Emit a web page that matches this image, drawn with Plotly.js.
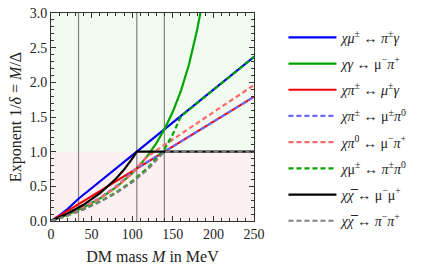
<!DOCTYPE html>
<html>
<head>
<meta charset="utf-8">
<script src="https://cdn.plot.ly/plotly-3.0.1.min.js"></script>
<style>html,body{margin:0;padding:0;background:#fff;}#chart{width:427px;height:269px;}</style>
</head>
<body>
<div id="chart"></div>
<script>
// Thresholds (vertical reference lines), MeV
const thresholds = [33.91, 105.66, 139.57];

// Series (DM mass M in MeV -> exponent)
const blueSolidX = [0, 10, 20, 33.9, 105.66, 250];
const blueSolidY = [0, 0.077, 0.167, 0.321, 1.0, 2.366];

const greenSolidX = [0, 20, 40, 60, 80, 100, 110, 120, 130, 140, 150, 160, 170, 175, 180, 184];
const greenSolidY = [0, 0.089, 0.195, 0.324, 0.484, 0.689, 0.813, 0.958, 1.128, 1.330, 1.575, 1.877, 2.260, 2.492, 2.760, 3.005];

const redSolidX = [0, 250];
const redSolidY = [0, 1.791];

const blueDashX = [0, 20, 40, 60, 80, 90, 101.07, 250];
const blueDashY = [0, 0.091, 0.199, 0.332, 0.498, 0.598, 0.724, 1.791];

const redDashX = [0, 20, 40, 60, 80, 100, 117.7, 250];
const redDashY = [0, 0.089, 0.195, 0.324, 0.484, 0.689, 0.923, 1.961];

const greenDashX = [0, 20, 40, 60, 80, 100, 120, 140, 150, 160, 250];
const greenDashY = [0, 0.079, 0.171, 0.280, 0.411, 0.573, 0.776, 1.040, 1.250, 1.510, 2.366];

const blackX = [0, 20, 40, 60, 80, 90, 100, 105.66, 250];
const blackY = [0, 0.105, 0.234, 0.397, 0.609, 0.742, 0.898, 1.0, 1.0];

const grayX = [0, 20, 40, 60, 80, 100, 120, 130, 139.57, 250];
const grayY = [0, 0.077, 0.167, 0.274, 0.402, 0.558, 0.754, 0.872, 1.0, 1.0];

const labels = [
  '<i>χμ</i><sup>±</sup> ↔ <i>π</i><sup>±</sup><i>γ</i>',
  '<i>χγ</i> ↔ μ<sup>−</sup><i>π</i><sup>+</sup>',
  '<i>χπ</i><sup>±</sup> ↔ <i>μ</i><sup>±</sup><i>γ</i>',
  '<i>χπ</i><sup>±</sup> ↔ μ<sup>±</sup><i>π</i><sup>0</sup>',
  '<i>χπ</i><sup>0</sup> ↔ μ<sup>−</sup><i>π</i><sup>+</sup>',
  '<i>χ</i>μ<sup>±</sup> ↔ <i>π</i><sup>±</sup><i>π</i><sup>0</sup>',
  '<i>χχ̅</i> ↔ μ<sup>−</sup>μ<sup>+</sup>',
  '<i>χχ̅</i> ↔ <i>π</i><sup>−</sup><i>π</i><sup>+</sup>'
];

const series = [
  {x: blueSolidX, y: blueSolidY, color: 'rgb(0,0,245)', dash: 'solid'},
  {x: greenSolidX, y: greenSolidY, color: 'rgb(0,165,0)', dash: 'solid'},
  {x: redSolidX, y: redSolidY, color: 'rgb(245,0,0)', dash: 'solid'},
  {x: blueDashX, y: blueDashY, color: 'rgb(105,105,255)', dash: '5px,3px'},
  {x: redDashX, y: redDashY, color: 'rgb(255,105,105)', dash: '5px,3px'},
  {x: greenDashX, y: greenDashY, color: 'rgb(0,165,0)', dash: '5px,3px'},
  {x: blackX, y: blackY, color: 'rgb(0,0,0)', dash: 'solid'},
  {x: grayX, y: grayY, color: 'rgb(128,128,128)', dash: '5px,3px'}
];

const traces = series.map((s, i) => ({
  type: 'scatter', mode: 'lines', x: s.x, y: s.y, name: labels[i],
  legendgroup: 'g' + i,
  line: {color: s.color, width: 2.2, dash: s.dash},
  hoverinfo: 'skip'
}));

const shapes = [
  {type: 'rect', xref: 'paper', yref: 'y', x0: 0, x1: 1, y0: 0, y1: 1, fillcolor: 'rgb(253,240,240)', line: {width: 0}, layer: 'below'},
  {type: 'rect', xref: 'paper', yref: 'y', x0: 0, x1: 1, y0: 1, y1: 3, fillcolor: 'rgb(241,251,240)', line: {width: 0}, layer: 'below'}
].concat(thresholds.map(t => ({
  type: 'line', xref: 'x', yref: 'paper', x0: t, x1: t, y0: 0, y1: 1,
  line: {color: 'rgba(90,90,90,0.75)', width: 1.2}, layer: 'below'
})));

const fam = 'Liberation Serif, DejaVu Serif, serif';
const ink = '#222';

const layout = {
  width: 427, height: 269,
  margin: {l: 51, r: 173, t: 13, b: 48},
  paper_bgcolor: '#fff', plot_bgcolor: 'rgba(0,0,0,0)',
  font: {family: fam, size: 13, color: ink},
  showlegend: true,
  legend: {
    x: 1.145, xanchor: 'left', y: 0.958, yanchor: 'top',
    font: {family: fam, size: 14, color: ink},
    tracegroupgap: 5, traceorder: 'grouped', itemwidth: 48,
    maxheight: 400,
    bgcolor: 'rgba(0,0,0,0)'
  },
  xaxis: {
    range: [0, 250], showgrid: false, zeroline: false,
    showline: true, linecolor: '#333', linewidth: 1, mirror: 'allticks',
    ticks: 'inside', ticklen: 5, tickcolor: '#333', dtick: 50, tick0: 0,
    minor: {ticks: 'inside', ticklen: 3, dtick: 10, tickcolor: '#333', showgrid: false},
    tickfont: {family: fam, size: 14, color: ink},
    title: {text: 'DM mass <i>M</i> in MeV', font: {family: fam, size: 16, color: ink}, standoff: 10}
  },
  yaxis: {
    range: [0, 3], showgrid: false, zeroline: false,
    showline: true, linecolor: '#333', linewidth: 1, mirror: 'allticks',
    ticks: 'inside', ticklen: 5, tickcolor: '#333', dtick: 0.5, tick0: 0, tickformat: '.1f',
    minor: {ticks: 'inside', ticklen: 3, dtick: 0.1, tickcolor: '#333', showgrid: false},
    tickfont: {family: fam, size: 14, color: ink},
    title: {text: 'Exponent 1/<i>δ</i> = <i>M</i>/Δ', font: {family: fam, size: 16, color: ink}, standoff: 4}
  },
  shapes: shapes
};

Plotly.newPlot('chart', traces, layout, {displayModeBar: false, staticPlot: true});
</script>
</body>
</html>
